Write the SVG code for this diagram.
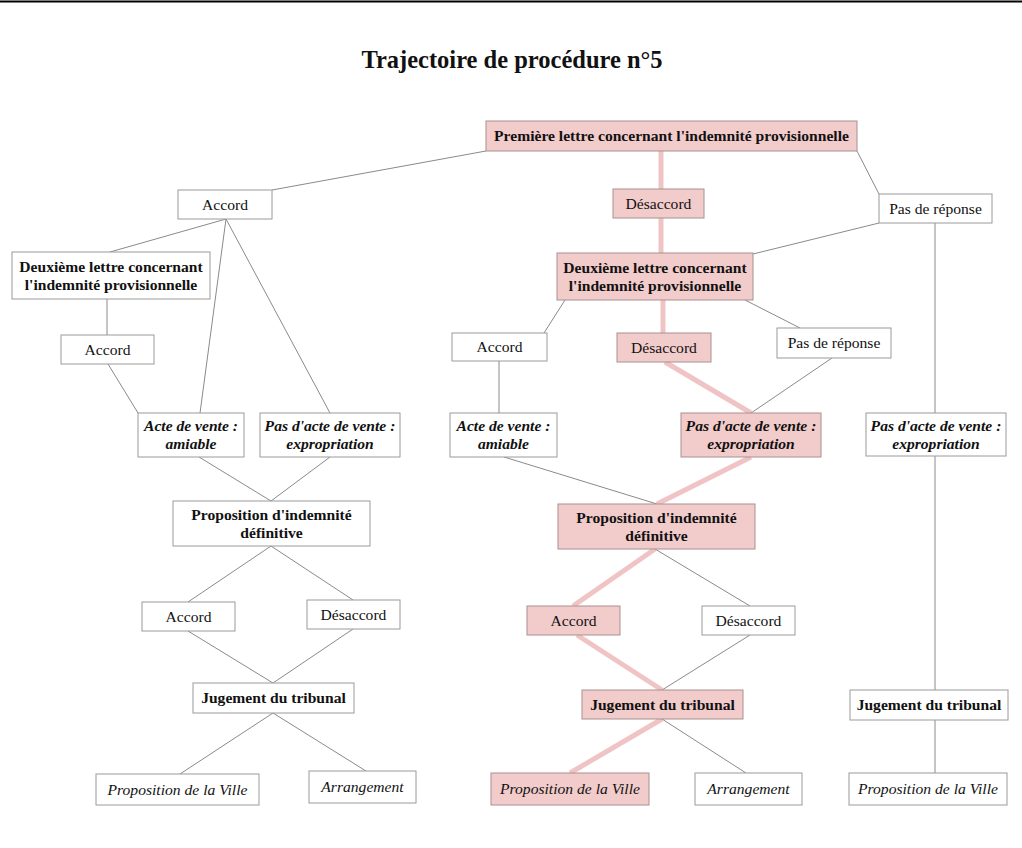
<svg xmlns="http://www.w3.org/2000/svg" width="1022" height="848" viewBox="0 0 1022 848">
<style>
.n rect{fill:#ffffff;stroke:#9a9a9a;stroke-width:1}
.p rect{fill:#f2cbcb;stroke:#a89090;stroke-width:1}
text{font-family:"Liberation Serif","Times New Roman",serif;font-size:15.6px;fill:#111;text-anchor:middle}
.b{font-weight:bold}
.i{font-style:italic}
.bi{font-weight:bold;font-style:italic}
.c line{stroke:#8a8a8a;stroke-width:1}
.c line.h{stroke:#f0c4c4;stroke-width:5}
.title{font-size:24.5px;font-weight:bold}
</style>
<rect x="0" y="0" width="1022" height="848" fill="#ffffff"/>
<line x1="0" y1="1.5" x2="1022" y2="1.5" stroke="#000" stroke-width="2"/>
<text class="title" x="512" y="68">Trajectoire de procédure n°5</text>
<g class="c" id="connectors">
<line x1="486" y1="151" x2="272" y2="190"/>
<line class="h" x1="661" y1="151" x2="661" y2="189"/>
<line x1="857" y1="151" x2="879" y2="194"/>
<line x1="226" y1="219" x2="110" y2="252"/>
<line x1="226" y1="219" x2="200" y2="413"/>
<line x1="226" y1="219" x2="330" y2="413"/>
<line x1="107" y1="299" x2="107" y2="335"/>
<line x1="108" y1="364" x2="138" y2="413"/>
<line class="h" x1="661" y1="218" x2="661" y2="253"/>
<line x1="879" y1="223" x2="753" y2="254"/>
<line x1="935" y1="223" x2="935" y2="413"/>
<line x1="935" y1="456" x2="935" y2="690"/>
<line x1="935" y1="720" x2="935" y2="773"/>
<line x1="565" y1="300" x2="544" y2="333"/>
<line class="h" x1="663" y1="300" x2="663" y2="333"/>
<line x1="745" y1="300" x2="800" y2="328"/>
<line x1="499" y1="361" x2="499" y2="413"/>
<line class="h" x1="665" y1="362" x2="751" y2="413"/>
<line x1="832" y1="358" x2="751" y2="413"/>
<line x1="199" y1="457" x2="271" y2="501"/>
<line x1="330" y1="457" x2="271" y2="501"/>
<line x1="504" y1="457" x2="657" y2="504"/>
<line class="h" x1="751" y1="457" x2="657" y2="504"/>
<line x1="271" y1="546" x2="188" y2="602"/>
<line x1="271" y1="546" x2="353" y2="600"/>
<line x1="188" y1="631" x2="273" y2="683"/>
<line x1="353" y1="629" x2="273" y2="683"/>
<line class="h" x1="655" y1="549" x2="573" y2="606"/>
<line x1="655" y1="549" x2="750" y2="606"/>
<line class="h" x1="577" y1="635" x2="662" y2="690"/>
<line x1="750" y1="635" x2="662" y2="690"/>
<line x1="273" y1="713" x2="180" y2="774"/>
<line x1="273" y1="713" x2="366" y2="771"/>
<line class="h" x1="662" y1="719" x2="570" y2="773"/>
<line x1="662" y1="719" x2="746" y2="773"/>
</g>
<g id="n1" class="p"><rect x="486" y="121" width="371" height="30"/><text class="b" x="671.5" y="141">Première lettre concernant l'indemnité provisionnelle</text></g>
<g id="n2" class="n"><rect x="178" y="190" width="94" height="29"/><text x="225" y="210">Accord</text></g>
<g id="n3" class="p"><rect x="613" y="189" width="91" height="29"/><text x="658.5" y="209">Désaccord</text></g>
<g id="n4" class="n"><rect x="879" y="194" width="113" height="29"/><text x="935.5" y="214">Pas de réponse</text></g>
<g id="n5" class="n"><rect x="12" y="252" width="198" height="47"/><text class="b" x="111" y="272">Deuxième lettre concernant</text><text class="b" x="111" y="290">l'indemnité provisionnelle</text></g>
<g id="n6" class="p"><rect x="557" y="253" width="196" height="47"/><text class="b" x="655" y="273">Deuxième lettre concernant</text><text class="b" x="655" y="291">l'indemnité provisionnelle</text></g>
<g id="n7" class="n"><rect x="61" y="335" width="93" height="29"/><text x="107.5" y="355">Accord</text></g>
<g id="n8" class="n"><rect x="452" y="333" width="95" height="28"/><text x="499.5" y="352">Accord</text></g>
<g id="n9" class="p"><rect x="617" y="333" width="94" height="29"/><text x="664" y="353">Désaccord</text></g>
<g id="n10" class="n"><rect x="777" y="328" width="114" height="30"/><text x="834" y="348">Pas de réponse</text></g>
<g id="n11" class="n"><rect x="138" y="413" width="106" height="44"/><text class="bi" x="191" y="431">Acte de vente :</text><text class="bi" x="191" y="449">amiable</text></g>
<g id="n12" class="n"><rect x="260" y="413" width="140" height="44"/><text class="bi" x="330" y="431">Pas d'acte de vente :</text><text class="bi" x="330" y="449">expropriation</text></g>
<g id="n13" class="n"><rect x="450" y="413" width="107" height="44"/><text class="bi" x="503.5" y="431">Acte de vente :</text><text class="bi" x="503.5" y="449">amiable</text></g>
<g id="n14" class="p"><rect x="681" y="413" width="140" height="44"/><text class="bi" x="751" y="431">Pas d'acte de vente :</text><text class="bi" x="751" y="449">expropriation</text></g>
<g id="n15" class="n"><rect x="866" y="413" width="140" height="43"/><text class="bi" x="936" y="431">Pas d'acte de vente :</text><text class="bi" x="936" y="449">expropriation</text></g>
<g id="n16" class="n"><rect x="173" y="501" width="197" height="45"/><text class="b" x="271.5" y="520">Proposition d'indemnité</text><text class="b" x="271.5" y="538">définitive</text></g>
<g id="n17" class="p"><rect x="558" y="504" width="197" height="45"/><text class="b" x="656.5" y="523">Proposition d'indemnité</text><text class="b" x="656.5" y="541">définitive</text></g>
<g id="n18" class="n"><rect x="142" y="602" width="93" height="29"/><text x="188.5" y="622">Accord</text></g>
<g id="n19" class="n"><rect x="307" y="600" width="93" height="29"/><text x="353.5" y="620">Désaccord</text></g>
<g id="n20" class="p"><rect x="527" y="606" width="93" height="29"/><text x="573.5" y="626">Accord</text></g>
<g id="n21" class="n"><rect x="702" y="606" width="93" height="29"/><text x="748.5" y="626">Désaccord</text></g>
<g id="n22" class="n"><rect x="193" y="683" width="161" height="30"/><text class="b" x="273.5" y="703">Jugement du tribunal</text></g>
<g id="n23" class="p"><rect x="582" y="690" width="161" height="29"/><text class="b" x="662.5" y="710">Jugement du tribunal</text></g>
<g id="n24" class="n"><rect x="850" y="690" width="158" height="30"/><text class="b" x="929" y="710">Jugement du tribunal</text></g>
<g id="n25" class="n"><rect x="96" y="774" width="163" height="31"/><text class="i" x="177.5" y="795">Proposition de la Ville</text></g>
<g id="n26" class="n"><rect x="309" y="771" width="107" height="32"/><text class="i" x="362.5" y="792">Arrangement</text></g>
<g id="n27" class="p"><rect x="491" y="773" width="158" height="32"/><text class="i" x="570" y="794">Proposition de la Ville</text></g>
<g id="n28" class="n"><rect x="695" y="773" width="107" height="32"/><text class="i" x="748.5" y="794">Arrangement</text></g>
<g id="n29" class="n"><rect x="849" y="773" width="158" height="32"/><text class="i" x="928" y="794">Proposition de la Ville</text></g>
</svg>
